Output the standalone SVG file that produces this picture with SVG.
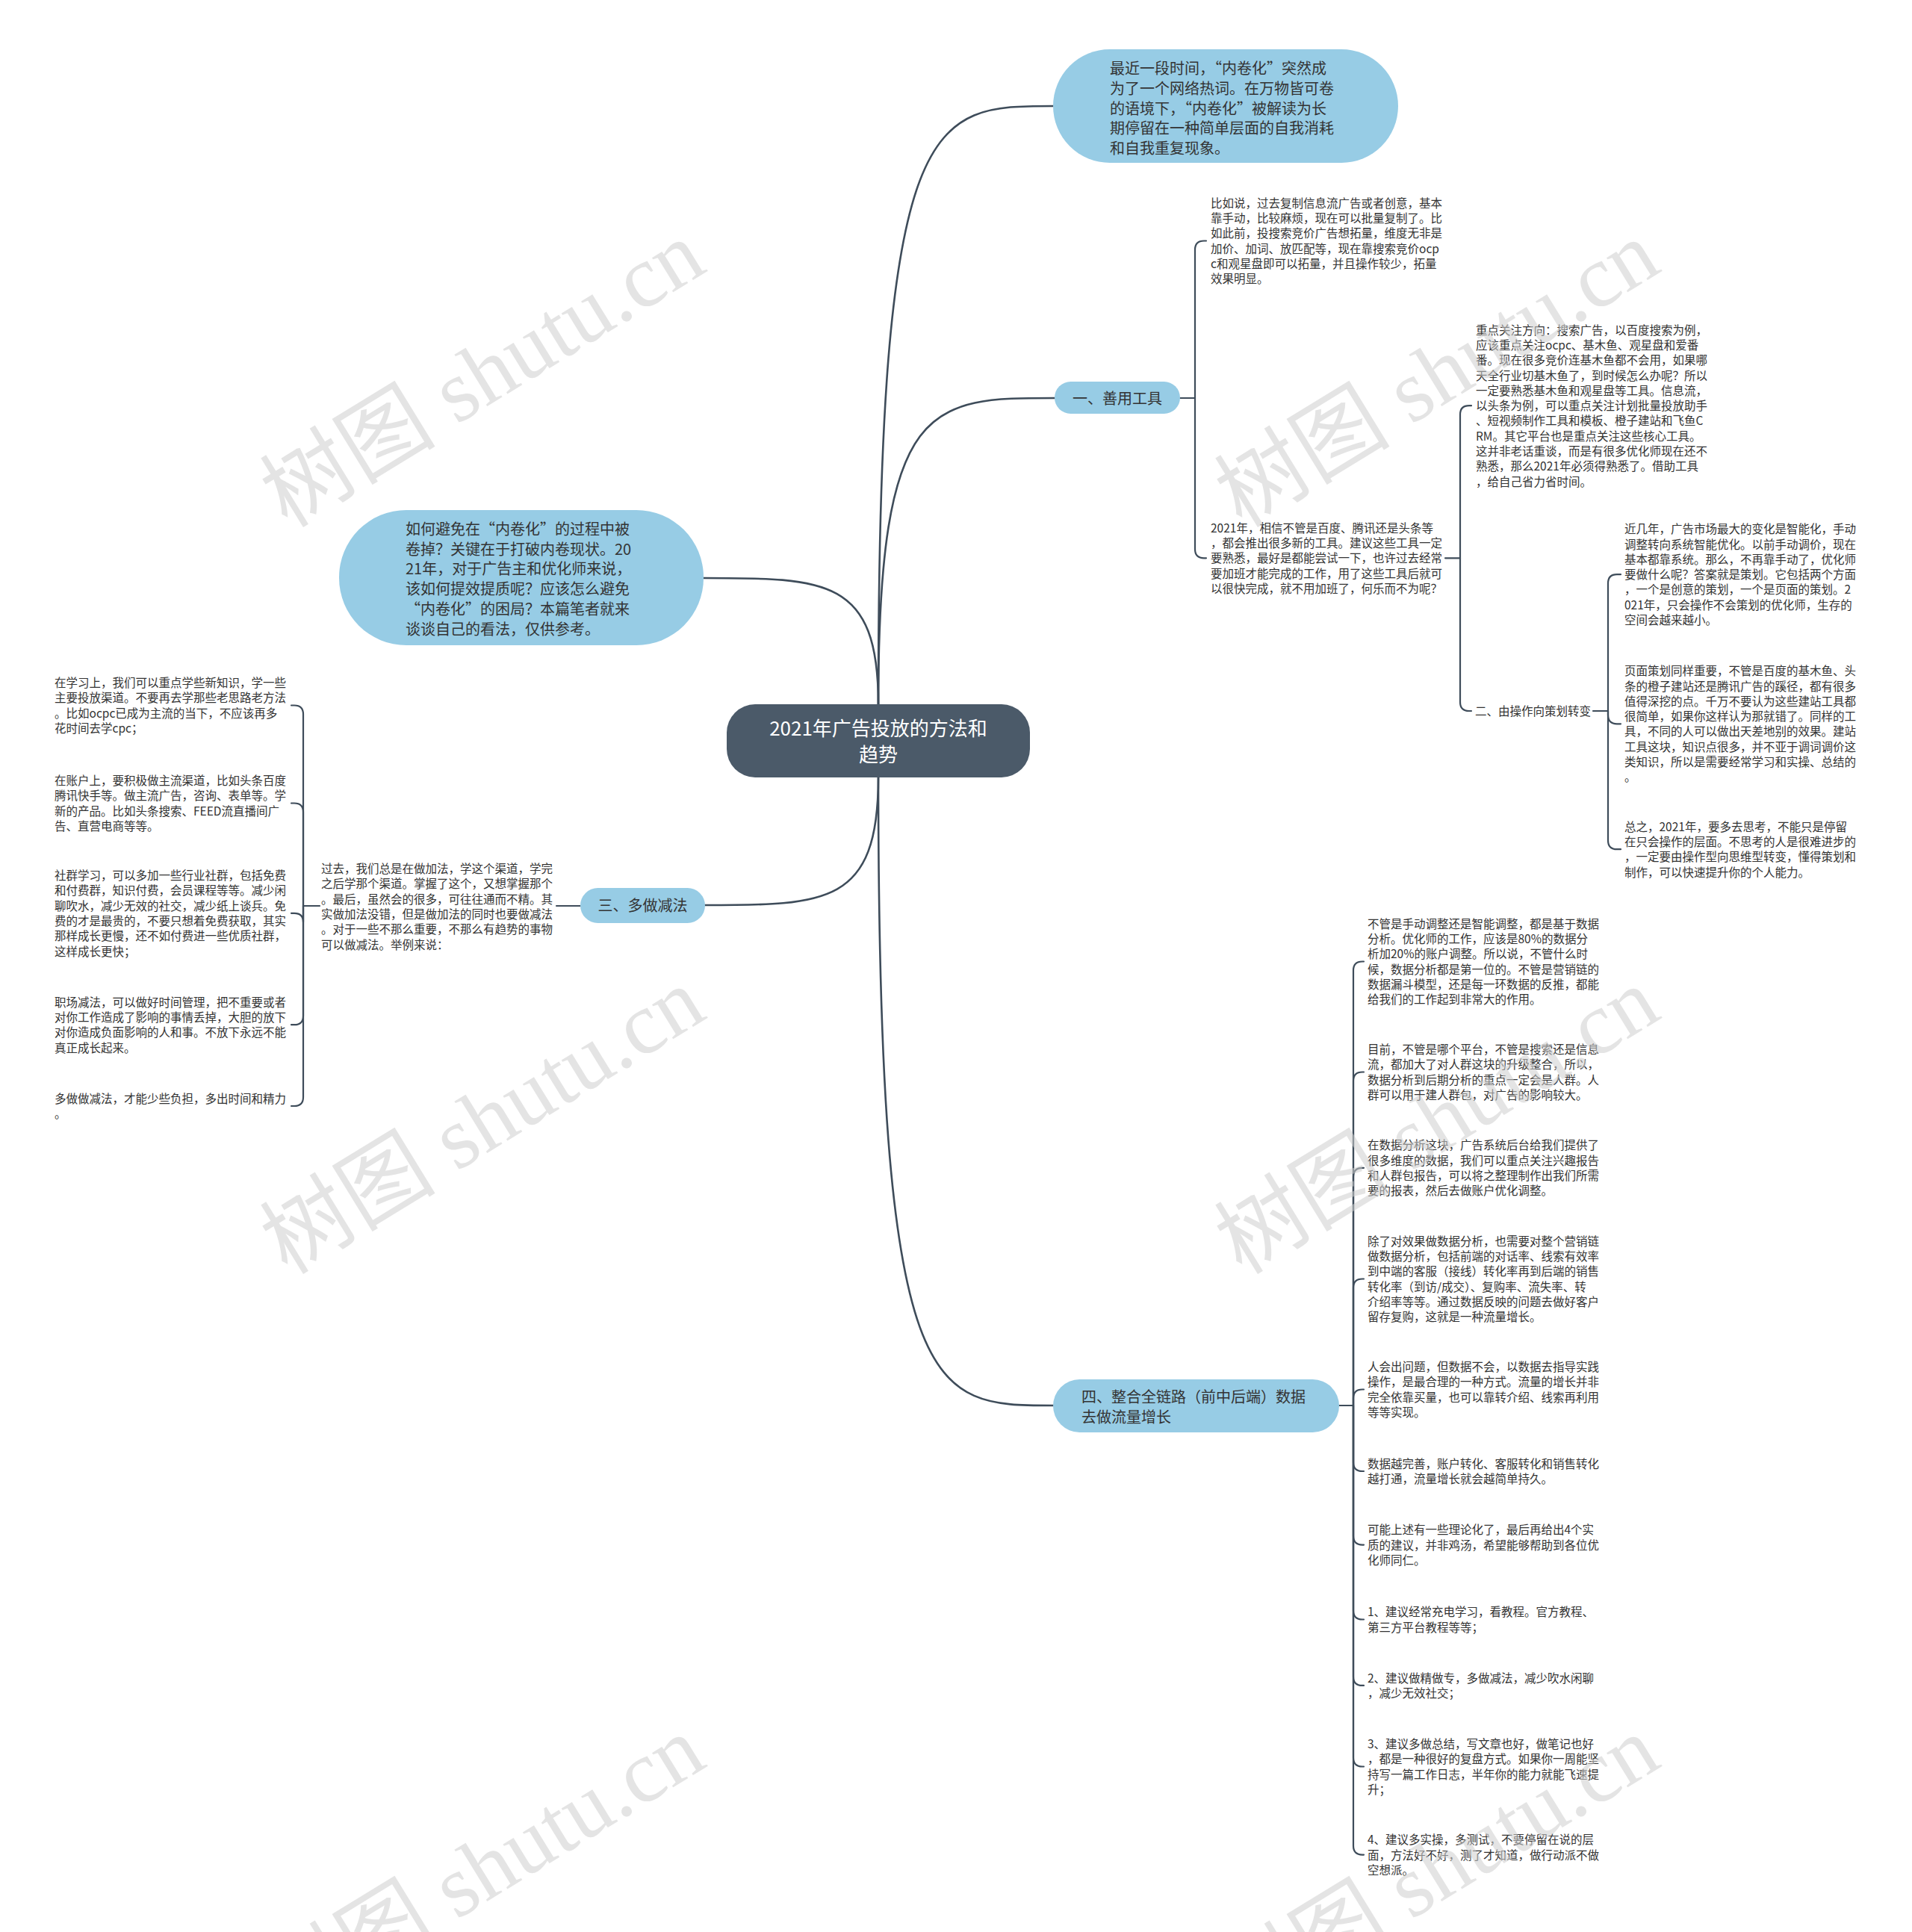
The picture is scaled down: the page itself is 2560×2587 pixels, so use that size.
<svg xmlns="http://www.w3.org/2000/svg" width="2560" height="2587" viewBox="0 0 2560 2587">
<style>
.t{font-family:"Noto Sans CJK SC","Liberation Sans",sans-serif;fill:#333333}
.leaf{font-size:15.5px}
.main{font-size:20px}
.root{font-size:26px;fill:#ffffff;text-anchor:middle}
.conn{fill:none;stroke:#3e4c5a;stroke-width:2.6;stroke-linecap:round}
.br{fill:none;stroke:#3e4c5a;stroke-width:2.2;stroke-linecap:round}
.bubble{fill:#97cce5}
.wm{font-family:"Liberation Serif","Noto Sans CJK SC",serif;font-size:118px;fill:#cfcfcf;opacity:0.55;text-anchor:middle}
</style>
<rect width="2560" height="2587" fill="#ffffff"/>

<g id="connectors">
  <path class="conn" d="M1176 943 C1176 142,1246 142,1410 142"/>
  <path class="conn" d="M1176 943 C1176 533,1246 533,1412 533"/>
  <path class="conn" d="M1176 943 C1176 774,1106 774,942 774"/>
  <path class="conn" d="M1176 1041 C1176 1212,1106 1212,944 1212"/>
  <path class="conn" d="M1176 1041 C1176 1882,1246 1882,1410 1882"/>
  <path class="br" d="M1580 533 H1600"/>
  <path class="br" d="M1600 533 V334.5 Q1600 322.5 1612 322.5 H1615"/>
  <path class="br" d="M1600 533 V735.3 Q1600 747.3 1612 747.3 H1615"/>
  <path class="br" d="M1935 747.3 H1955"/>
  <path class="br" d="M1955 747.3 V555.2 Q1955 543.2 1967 543.2 H1970"/>
  <path class="br" d="M1955 747.3 V940 Q1955 952 1967 952 H1970"/>
  <path class="br" d="M2133 952 H2153"/>
  <path class="br" d="M2153 952 V781.2 Q2153 769.2 2165 769.2 H2170"/>
  <path class="br" d="M2153 952 V957.3 Q2153 969.3 2165 969.3 H2170"/>
  <path class="br" d="M2153 952 V1125.2 Q2153 1137.2 2165 1137.2 H2170"/>
  <path class="br" d="M745 1213 H777"/>
  <path class="br" d="M428 1213 H406"/>
  <path class="br" d="M406 1213 V956.5 Q406 944.5 394 944.5 H390"/>
  <path class="br" d="M406 1213 V1087.5 Q406 1075.5 394 1075.5 H390"/>
  <path class="br" d="M406 1213 V1234.8 Q406 1222.8 394 1222.8 H390"/>
  <path class="br" d="M406 1213 V1360.2 Q406 1372.2 394 1372.2 H390"/>
  <path class="br" d="M406 1213 V1469 Q406 1481 394 1481 H390"/>
  <path class="br" d="M1793 1882 H1812"/>
  <path class="br" d="M1812 1882 V1299.5 Q1812 1287.5 1824 1287.5 H1826"/>
  <path class="br" d="M1812 1882 V1447.5 Q1812 1435.5 1824 1435.5 H1826"/>
  <path class="br" d="M1812 1882 V1575.8 Q1812 1563.8 1824 1563.8 H1826"/>
  <path class="br" d="M1812 1882 V1724.5 Q1812 1712.5 1824 1712.5 H1826"/>
  <path class="br" d="M1812 1882 V1872.5 Q1812 1860.5 1824 1860.5 H1826"/>
  <path class="br" d="M1812 1882 V1958 Q1812 1970 1824 1970 H1826"/>
  <path class="br" d="M1812 1882 V2056.6 Q1812 2068.6 1824 2068.6 H1826"/>
  <path class="br" d="M1812 1882 V2156.5 Q1812 2168.5 1824 2168.5 H1826"/>
  <path class="br" d="M1812 1882 V2244.9 Q1812 2256.9 1824 2256.9 H1826"/>
  <path class="br" d="M1812 1882 V2353.5 Q1812 2365.5 1824 2365.5 H1826"/>
  <path class="br" d="M1812 1882 V2471.6 Q1812 2483.6 1824 2483.6 H1826"/>
</g>

<g id="root">
  <rect x="973" y="943" width="406" height="98" rx="38" fill="#4b5a69"/>
  <text class="t root"><tspan x="1176" y="985">2021年广告投放的方法和</tspan><tspan x="1176" y="1020">趋势</tspan></text>
</g>

<g id="intro-top">
  <rect class="bubble" x="1410" y="66" width="462" height="152" rx="76"/>
  <text class="t main" x="1486" y="99"><tspan x="1486" dy="0">最近一段时间，“内卷化”突然成</tspan><tspan x="1486" dy="26.8">为了一个网络热词。在万物皆可卷</tspan><tspan x="1486" dy="26.8">的语境下，“内卷化”被解读为长</tspan><tspan x="1486" dy="26.8">期停留在一种简单层面的自我消耗</tspan><tspan x="1486" dy="26.8">和自我重复现象。</tspan></text>
</g>

<g id="intro-left">
  <rect class="bubble" x="454" y="683" width="488" height="181" rx="90"/>
  <text class="t main" x="543" y="716"><tspan x="543" dy="0">如何避免在“内卷化”的过程中被</tspan><tspan x="543" dy="26.7">卷掉？关键在于打破内卷现状。20</tspan><tspan x="543" dy="26.7">21年，对于广告主和优化师来说，</tspan><tspan x="543" dy="26.7">该如何提效提质呢？应该怎么避免</tspan><tspan x="543" dy="26.7">“内卷化”的困局？本篇笔者就来</tspan><tspan x="543" dy="26.7">谈谈自己的看法，仅供参考。</tspan></text>
</g>

<g id="n1">
  <rect class="bubble" x="1412" y="511" width="168" height="43" rx="21.5"/>
  <text class="t main" x="1496" y="540.6" text-anchor="middle">一、善用工具</text>
</g>
<g id="n1-1">
  <text class="t leaf" x="1621" y="277.6"><tspan x="1621" dy="0">比如说，过去复制信息流广告或者创意，基本</tspan><tspan x="1621" dy="20.3">靠手动，比较麻烦，现在可以批量复制了。比</tspan><tspan x="1621" dy="20.3">如此前，投搜索竞价广告想拓量，维度无非是</tspan><tspan x="1621" dy="20.3">加价、加词、放匹配等，现在靠搜索竞价ocp</tspan><tspan x="1621" dy="20.3">c和观星盘即可以拓量，并且操作较少，拓量</tspan><tspan x="1621" dy="20.3">效果明显。</tspan></text>
</g>
<g id="n1-2">
  <text class="t leaf" x="1621" y="712.6"><tspan x="1621" dy="0">2021年，相信不管是百度、腾讯还是头条等</tspan><tspan x="1621" dy="20.3">，都会推出很多新的工具。建议这些工具一定</tspan><tspan x="1621" dy="20.3">要熟悉，最好是都能尝试一下，也许过去经常</tspan><tspan x="1621" dy="20.3">要加班才能完成的工作，用了这些工具后就可</tspan><tspan x="1621" dy="20.3">以很快完成，就不用加班了，何乐而不为呢？</tspan></text>
</g>
<g id="n1-2-1">
  <text class="t leaf" x="1976" y="447.6"><tspan x="1976" dy="0">重点关注方向：搜索广告，以百度搜索为例，</tspan><tspan x="1976" dy="20.3">应该重点关注ocpc、基木鱼、观星盘和爱番</tspan><tspan x="1976" dy="20.3">番。现在很多竞价连基木鱼都不会用，如果哪</tspan><tspan x="1976" dy="20.3">天全行业切基木鱼了，到时候怎么办呢？所以</tspan><tspan x="1976" dy="20.3">一定要熟悉基木鱼和观星盘等工具。信息流，</tspan><tspan x="1976" dy="20.3">以头条为例，可以重点关注计划批量投放助手</tspan><tspan x="1976" dy="20.3">、短视频制作工具和模板、橙子建站和飞鱼C</tspan><tspan x="1976" dy="20.3">RM。其它平台也是重点关注这些核心工具。</tspan><tspan x="1976" dy="20.3">这并非老话重谈，而是有很多优化师现在还不</tspan><tspan x="1976" dy="20.3">熟悉，那么2021年必须得熟悉了。借助工具</tspan><tspan x="1976" dy="20.3">，给自己省力省时间。</tspan></text>
</g>
<g id="n2">
  <text class="t leaf" x="1975" y="958">二、由操作向策划转变</text>
</g>
<g id="n2-1">
  <text class="t leaf" x="2175" y="714.2"><tspan x="2175" dy="0">近几年，广告市场最大的变化是智能化，手动</tspan><tspan x="2175" dy="20.3">调整转向系统智能优化。以前手动调价，现在</tspan><tspan x="2175" dy="20.3">基本都靠系统。那么，不再靠手动了，优化师</tspan><tspan x="2175" dy="20.3">要做什么呢？答案就是策划。它包括两个方面</tspan><tspan x="2175" dy="20.3">，一个是创意的策划，一个是页面的策划。2</tspan><tspan x="2175" dy="20.3">021年，只会操作不会策划的优化师，生存的</tspan><tspan x="2175" dy="20.3">空间会越来越小。</tspan></text>
</g>
<g id="n2-2">
  <text class="t leaf" x="2175" y="904.2"><tspan x="2175" dy="0">页面策划同样重要，不管是百度的基木鱼、头</tspan><tspan x="2175" dy="20.3">条的橙子建站还是腾讯广告的蹊径，都有很多</tspan><tspan x="2175" dy="20.3">值得深挖的点。千万不要认为这些建站工具都</tspan><tspan x="2175" dy="20.3">很简单，如果你这样认为那就错了。同样的工</tspan><tspan x="2175" dy="20.3">具，不同的人可以做出天差地别的效果。建站</tspan><tspan x="2175" dy="20.3">工具这块，知识点很多，并不亚于调词调价这</tspan><tspan x="2175" dy="20.3">类知识，所以是需要经常学习和实操、总结的</tspan><tspan x="2175" dy="20.3">。</tspan></text>
</g>
<g id="n2-3">
  <text class="t leaf" x="2175" y="1112.6"><tspan x="2175" dy="0">总之，2021年，要多去思考，不能只是停留</tspan><tspan x="2175" dy="20.3">在只会操作的层面。不思考的人是很难进步的</tspan><tspan x="2175" dy="20.3">，一定要由操作型向思维型转变，懂得策划和</tspan><tspan x="2175" dy="20.3">制作，可以快速提升你的个人能力。</tspan></text>
</g>

<g id="n3">
  <rect class="bubble" x="777" y="1189" width="167" height="47" rx="23.5"/>
  <text class="t main" x="860.5" y="1219.6" text-anchor="middle">三、多做减法</text>
</g>
<g id="n3-1">
  <text class="t leaf" x="430" y="1169"><tspan x="430" dy="0">过去，我们总是在做加法，学这个渠道，学完</tspan><tspan x="430" dy="20.3">之后学那个渠道。掌握了这个，又想掌握那个</tspan><tspan x="430" dy="20.3">。最后，虽然会的很多，可往往通而不精。其</tspan><tspan x="430" dy="20.3">实做加法没错，但是做加法的同时也要做减法</tspan><tspan x="430" dy="20.3">。对于一些不那么重要，不那么有趋势的事物</tspan><tspan x="430" dy="20.3">可以做减法。举例来说：</tspan></text>
</g>
<g id="n3-1-1">
  <text class="t leaf" x="73" y="920"><tspan x="73" dy="0">在学习上，我们可以重点学些新知识，学一些</tspan><tspan x="73" dy="20.3">主要投放渠道。不要再去学那些老思路老方法</tspan><tspan x="73" dy="20.3">。比如ocpc已成为主流的当下，不应该再多</tspan><tspan x="73" dy="20.3">花时间去学cpc；</tspan></text>
</g>
<g id="n3-1-2">
  <text class="t leaf" x="73" y="1051"><tspan x="73" dy="0">在账户上，要积极做主流渠道，比如头条百度</tspan><tspan x="73" dy="20.3">腾讯快手等。做主流广告，咨询、表单等。学</tspan><tspan x="73" dy="20.3">新的产品。比如头条搜索、FEED流直播间广</tspan><tspan x="73" dy="20.3">告、直营电商等等。</tspan></text>
</g>
<g id="n3-1-3">
  <text class="t leaf" x="73" y="1178"><tspan x="73" dy="0">社群学习，可以多加一些行业社群，包括免费</tspan><tspan x="73" dy="20.3">和付费群，知识付费，会员课程等等。减少闲</tspan><tspan x="73" dy="20.3">聊吹水，减少无效的社交，减少纸上谈兵。免</tspan><tspan x="73" dy="20.3">费的才是最贵的，不要只想着免费获取，其实</tspan><tspan x="73" dy="20.3">那样成长更慢，还不如付费进一些优质社群，</tspan><tspan x="73" dy="20.3">这样成长更快；</tspan></text>
</g>
<g id="n3-1-4">
  <text class="t leaf" x="73" y="1347.6"><tspan x="73" dy="0">职场减法，可以做好时间管理，把不重要或者</tspan><tspan x="73" dy="20.3">对你工作造成了影响的事情丢掉，大胆的放下</tspan><tspan x="73" dy="20.3">对你造成负面影响的人和事。不放下永远不能</tspan><tspan x="73" dy="20.3">真正成长起来。</tspan></text>
</g>
<g id="n3-1-5">
  <text class="t leaf" x="73" y="1477"><tspan x="73" dy="0">多做做减法，才能少些负担，多出时间和精力</tspan><tspan x="73" dy="20.3">。</tspan></text>
</g>

<g id="n4">
  <rect class="bubble" x="1410" y="1847" width="383" height="71" rx="35.5"/>
  <text class="t main" x="1448" y="1878"><tspan x="1448" dy="0">四、整合全链路（前中后端）数据</tspan><tspan x="1448" dy="26.7">去做流量增长</tspan></text>
</g>
<g id="n4-1">
  <text class="t leaf" x="1831" y="1242.6"><tspan x="1831" dy="0">不管是手动调整还是智能调整，都是基于数据</tspan><tspan x="1831" dy="20.3">分析。优化师的工作，应该是80%的数据分</tspan><tspan x="1831" dy="20.3">析加20%的账户调整。所以说，不管什么时</tspan><tspan x="1831" dy="20.3">候，数据分析都是第一位的。不管是营销链的</tspan><tspan x="1831" dy="20.3">数据漏斗模型，还是每一环数据的反推，都能</tspan><tspan x="1831" dy="20.3">给我们的工作起到非常大的作用。</tspan></text>
</g>
<g id="n4-2">
  <text class="t leaf" x="1831" y="1411"><tspan x="1831" dy="0">目前，不管是哪个平台，不管是搜索还是信息</tspan><tspan x="1831" dy="20.3">流，都加大了对人群这块的升级整合，所以，</tspan><tspan x="1831" dy="20.3">数据分析到后期分析的重点一定会是人群。人</tspan><tspan x="1831" dy="20.3">群可以用于建人群包，对广告的影响较大。</tspan></text>
</g>
<g id="n4-3">
  <text class="t leaf" x="1831" y="1539.2"><tspan x="1831" dy="0">在数据分析这块，广告系统后台给我们提供了</tspan><tspan x="1831" dy="20.3">很多维度的数据，我们可以重点关注兴趣报告</tspan><tspan x="1831" dy="20.3">和人群包报告，可以将之整理制作出我们所需</tspan><tspan x="1831" dy="20.3">要的报表，然后去做账户优化调整。</tspan></text>
</g>
<g id="n4-4">
  <text class="t leaf" x="1831" y="1667.6"><tspan x="1831" dy="0">除了对效果做数据分析，也需要对整个营销链</tspan><tspan x="1831" dy="20.3">做数据分析，包括前端的对话率、线索有效率</tspan><tspan x="1831" dy="20.3">到中端的客服（接线）转化率再到后端的销售</tspan><tspan x="1831" dy="20.3">转化率（到访/成交）、复购率、流失率、转</tspan><tspan x="1831" dy="20.3">介绍率等等。通过数据反映的问题去做好客户</tspan><tspan x="1831" dy="20.3">留存复购，这就是一种流量增长。</tspan></text>
</g>
<g id="n4-5">
  <text class="t leaf" x="1831" y="1836"><tspan x="1831" dy="0">人会出问题，但数据不会，以数据去指导实践</tspan><tspan x="1831" dy="20.3">操作，是最合理的一种方式。流量的增长并非</tspan><tspan x="1831" dy="20.3">完全依靠买量，也可以靠转介绍、线索再利用</tspan><tspan x="1831" dy="20.3">等等实现。</tspan></text>
</g>
<g id="n4-6">
  <text class="t leaf" x="1831" y="1966"><tspan x="1831" dy="0">数据越完善，账户转化、客服转化和销售转化</tspan><tspan x="1831" dy="20.3">越打通，流量增长就会越简单持久。</tspan></text>
</g>
<g id="n4-7">
  <text class="t leaf" x="1831" y="2054.2"><tspan x="1831" dy="0">可能上述有一些理论化了，最后再给出4个实</tspan><tspan x="1831" dy="20.3">质的建议，并非鸡汤，希望能够帮助到各位优</tspan><tspan x="1831" dy="20.3">化师同仁。</tspan></text>
</g>
<g id="n4-8">
  <text class="t leaf" x="1831" y="2164.2"><tspan x="1831" dy="0">1、建议经常充电学习，看教程。官方教程、</tspan><tspan x="1831" dy="20.3">第三方平台教程等等；</tspan></text>
</g>
<g id="n4-9">
  <text class="t leaf" x="1831" y="2252.6"><tspan x="1831" dy="0">2、建议做精做专，多做减法，减少吹水闲聊</tspan><tspan x="1831" dy="20.3">，减少无效社交；</tspan></text>
</g>
<g id="n4-10">
  <text class="t leaf" x="1831" y="2341"><tspan x="1831" dy="0">3、建议多做总结，写文章也好，做笔记也好</tspan><tspan x="1831" dy="20.3">，都是一种很好的复盘方式。如果你一周能坚</tspan><tspan x="1831" dy="20.3">持写一篇工作日志，半年你的能力就能飞速提</tspan><tspan x="1831" dy="20.3">升；</tspan></text>
</g>
<g id="n4-11">
  <text class="t leaf" x="1831" y="2469.2"><tspan x="1831" dy="0">4、建议多实操，多测试，不要停留在说的层</tspan><tspan x="1831" dy="20.3">面，方法好不好，测了才知道，做行动派不做</tspan><tspan x="1831" dy="20.3">空想派。</tspan></text>
</g>

<g id="watermarks">
  <text class="wm" transform="translate(667 535) rotate(-31.5)">树图 shutu.cn</text>
  <text class="wm" transform="translate(1945 535) rotate(-31.5)">树图 shutu.cn</text>
  <text class="wm" transform="translate(667 1535) rotate(-31.5)">树图 shutu.cn</text>
  <text class="wm" transform="translate(1945 1535) rotate(-31.5)">树图 shutu.cn</text>
  <text class="wm" transform="translate(667 2537) rotate(-31.5)">树图 shutu.cn</text>
  <text class="wm" transform="translate(1945 2537) rotate(-31.5)">树图 shutu.cn</text>
</g>
</svg>
